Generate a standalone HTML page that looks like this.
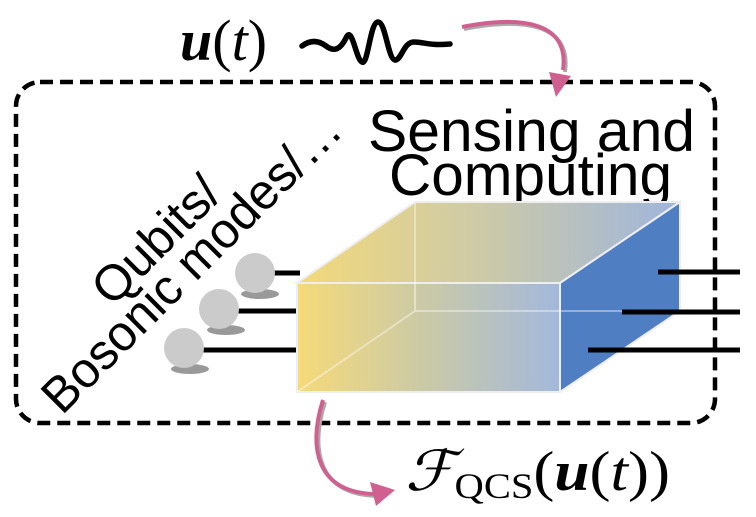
<!DOCTYPE html>
<html><head><style>
html,body{margin:0;padding:0;background:#fff;}
svg{display:block;}
</style></head><body>
<svg width="756" height="517" viewBox="0 0 756 517" xmlns="http://www.w3.org/2000/svg">
<defs>
<linearGradient id="g" x1="0" x2="1" y1="0" y2="0">
<stop offset="0" stop-color="#f6da78"/>
<stop offset="0.5" stop-color="#c9c9a9"/>
<stop offset="1" stop-color="#a3b8dc"/>
</linearGradient>
<linearGradient id="gt" x1="0" x2="1" y1="0" y2="0">
<stop offset="0" stop-color="#f3d979"/>
<stop offset="0.45" stop-color="#cfcba5"/>
<stop offset="1" stop-color="#9fb5dc"/>
</linearGradient>
</defs>
<rect x="16" y="82" width="699" height="341" rx="24" fill="none" stroke="#000" stroke-width="4.5" stroke-dasharray="13,7"/>
<text x="180" y="60" font-family="Liberation Serif, serif" font-size="58"><tspan font-weight="bold" font-style="italic">u</tspan>(<tspan font-style="italic">t</tspan>)</text>
<path d="M302,46 C310,40 318,40 326,46 C334,52 340,50 346,38 C352,24 356,60 362,62 C368,66 370,22 378,22 C386,22 388,62 396,60 C402,58 404,42 414,42 C424,42 430,46 450,44" fill="none" stroke="#000" stroke-width="5.5" stroke-linecap="round"/>
<path d="M464,29 C520,18 572,22 565,72" fill="none" stroke="#aaa" stroke-width="4"/>
<path d="M462,27 C518,16 570,20 563,70" fill="none" stroke="#d06090" stroke-width="4"/>
<polygon points="549,72 571,76 556,97" fill="#d06090"/>
<text x="368" y="151" font-family="Liberation Sans, sans-serif" font-size="58" textLength="327" lengthAdjust="spacingAndGlyphs">Sensing and</text>
<text x="389" y="195" font-family="Liberation Sans, sans-serif" font-size="58" textLength="283" lengthAdjust="spacingAndGlyphs">Computing</text>
<g font-family="Liberation Sans, sans-serif" font-size="50">
<text transform="translate(112,308) rotate(-45)">Qubits/</text>
<text transform="translate(62,416) rotate(-45)" textLength="400" lengthAdjust="spacingAndGlyphs">Bosonic modes/…</text>
</g>
<ellipse cx="260" cy="294" rx="19" ry="5" fill="#999"/>
<ellipse cx="226" cy="330" rx="19" ry="5" fill="#999"/>
<ellipse cx="190" cy="369" rx="19" ry="5" fill="#999"/>
<line x1="270" y1="273" x2="300" y2="273" stroke="#000" stroke-width="5"/>
<line x1="235" y1="311" x2="300" y2="311" stroke="#000" stroke-width="5"/>
<line x1="200" y1="350" x2="300" y2="350" stroke="#000" stroke-width="5"/>
<circle cx="255" cy="273" r="20" fill="#cbcbcb"/>
<circle cx="219" cy="309" r="20" fill="#cbcbcb"/>
<circle cx="184" cy="348" r="20" fill="#cbcbcb"/>
<polygon points="297,283 415,202 680,202 560,283" fill="url(#gt)" stroke="#eee" stroke-width="2"/>
<polygon points="560,283 680,202 680,311 560,392" fill="#4f7ec3" stroke="#eee" stroke-width="2"/>
<rect x="297" y="283" width="263" height="109" fill="url(#g)" stroke="#eee" stroke-width="2"/>
<line x1="297" y1="392" x2="415" y2="311" stroke="#fff" stroke-opacity="0.4" stroke-width="2"/>
<line x1="415" y1="311" x2="680" y2="311" stroke="#fff" stroke-opacity="0.4" stroke-width="2"/>
<line x1="415" y1="202" x2="415" y2="311" stroke="#fff" stroke-opacity="0.4" stroke-width="2"/>
<line x1="658" y1="272" x2="740" y2="272" stroke="#000" stroke-width="5"/>
<line x1="622" y1="312" x2="740" y2="312" stroke="#000" stroke-width="5"/>
<line x1="588" y1="350" x2="740" y2="350" stroke="#000" stroke-width="5"/>
<path d="M325,402 C310,450 318,495 378,496" fill="none" stroke="#aaa" stroke-width="4"/>
<path d="M323,400 C308,448 316,493 376,494" fill="none" stroke="#d06090" stroke-width="4"/>
<polygon points="370,482 395,490 376,506" fill="#d06090"/>
<text x="405" y="490" font-family="Liberation Serif, serif" font-size="56" textLength="265" lengthAdjust="spacingAndGlyphs"><tspan font-style="italic">ℱ</tspan><tspan font-size="36" dy="8">QCS</tspan><tspan dy="-8">(</tspan><tspan font-weight="bold" font-style="italic">u</tspan>(<tspan font-style="italic">t</tspan>))</text>
</svg>
</body></html>
